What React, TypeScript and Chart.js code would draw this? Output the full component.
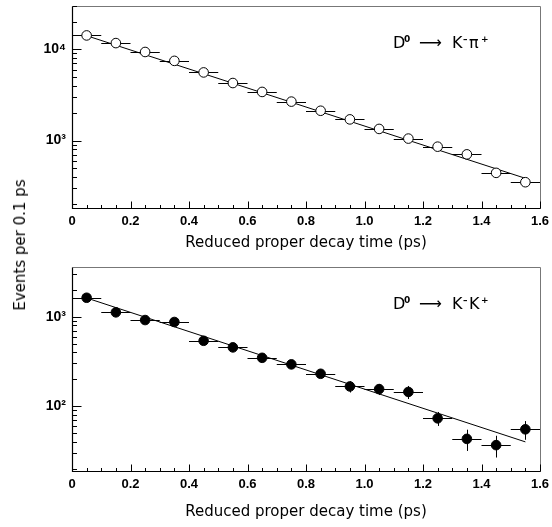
import React, { useEffect, useRef } from "react";
import { Chart, registerables } from "chart.js";

Chart.register(...registerables);

// ---- data ----
const binCenters = [0.05, 0.15, 0.25, 0.35, 0.45, 0.55, 0.65, 0.75, 0.85, 0.95, 1.05, 1.15, 1.25, 1.35, 1.45, 1.55];
const binHalfWidth = 0.05;

const kpiCounts = [14200, 11700, 9350, 7470, 5580, 4270, 3410, 2670, 2120, 1705, 1340, 1050, 856, 705, 442, 349];
const kpiErrors = [120, 108, 97, 86, 75, 65, 58, 52, 46, 41, 37, 32, 29, 27, 21, 19];
const kpiFitX = [0.05, 1.55];
const kpiFitY = [14100, 385];

const kkCounts = [1630, 1120, 918, 873, 538, 454, 347, 293, 230, 166, 155, 144, 73, 43, 36.6, 55];
const kkErrors = [45, 38, 34, 33, 26, 24, 21, 19, 17, 24, 22, 24, 13, 11.5, 10, 13];
const kkFitX = [0.05, 1.55];
const kkFitY = [1620, 39.8];

const xTickValues = [0, 0.2, 0.4, 0.6, 0.8, 1, 1.2, 1.4, 1.6];
const kpiYTicks = [1000, 10000];
const kpiYLabels = ["10\u00B3", "10\u2074"];
const kkYTicks = [100, 1000];
const kkYLabels = ["10\u00B2", "10\u00B3"];

const xTitle = "Reduced proper decay time (ps)";
const yTitle = "Events per 0.1 ps";

// decay labels: [text, isSuperscript]
const kpiDecay: [string, boolean][] = [["D", false], ["0", true], ["\u27F6", false], ["K", false], ["\u2013", true], ["\u03C0", false], ["+", true]];
const kkDecay: [string, boolean][] = [["D", false], ["0", true], ["\u27F6", false], ["K", false], ["\u2013", true], ["K", false], ["+", true]];
const decayOffsets = [0, 11, 26, 59, 70, 76, 88];

type Panel = {
  counts: number[];
  errors: number[];
  fitX: number[];
  fitY: number[];
  yMin: number;
  yMax: number;
  yTicks: number[];
  yLabels: string[];
  filled: boolean;
  decay: [string, boolean][];
  padTop: number;
  xHeight: number;
  titlePadBottom: number;
};

const FONT = "'DejaVu Sans', sans-serif";
const TICKFONT = "'Liberation Sans', sans-serif";

function makeChart(canvas: HTMLCanvasElement, p: Panel) {
  const decorPlugin = {
    id: "decor",
    beforeDatasetsDraw(chart: any) {
      const ctx = chart.ctx;
      const xs = chart.scales.x;
      const ys = chart.scales.y;
      ctx.save();
      ctx.strokeStyle = "#000";
      ctx.lineWidth = 1;
      binCenters.forEach((xc, i) => {
        const px = xs.getPixelForValue(xc);
        const py = ys.getPixelForValue(p.counts[i]);
        const x0 = xs.getPixelForValue(xc - binHalfWidth);
        const x1 = xs.getPixelForValue(xc + binHalfWidth);
        const y0 = ys.getPixelForValue(p.counts[i] - p.errors[i]);
        const y1 = ys.getPixelForValue(p.counts[i] + p.errors[i]);
        ctx.beginPath();
        ctx.moveTo(x0, Math.round(py) + 0.5);
        ctx.lineTo(x1, Math.round(py) + 0.5);
        ctx.moveTo(Math.round(px) + 0.5, y0);
        ctx.lineTo(Math.round(px) + 0.5, y1);
        ctx.stroke();
      });
      ctx.restore();
    },
    afterDraw(chart: any) {
      const ctx = chart.ctx;
      const { left, right, top, bottom } = chart.chartArea;
      const xs = chart.scales.x;
      const ys = chart.scales.y;
      const L = Math.round(left) + 0.5;
      const R = Math.round(right) + 0.5;
      const T = Math.round(top) + 0.5;
      const B = Math.round(bottom) + 0.5;
      ctx.save();
      ctx.strokeStyle = "#777";
      ctx.lineWidth = 1;
      ctx.beginPath();
      ctx.moveTo(L, T);
      ctx.lineTo(R, T);
      ctx.lineTo(R, B);
      ctx.stroke();
      ctx.strokeStyle = "#000";
      ctx.lineWidth = 1.2;
      ctx.beginPath();
      ctx.moveTo(L, T);
      ctx.lineTo(L, B);
      ctx.lineTo(R, B);
      ctx.stroke();
      ctx.lineWidth = 1;
      ctx.beginPath();
      for (let k = 0; k <= 32; k++) {
        const v = k * 0.05;
        const px = Math.round(xs.getPixelForValue(v)) + 0.5;
        const len = k % 4 === 0 ? 7 : 3.5;
        ctx.moveTo(px, B);
        ctx.lineTo(px, B - len);
      }
      const lo = Math.floor(Math.log10(p.yMin));
      const hi = Math.ceil(Math.log10(p.yMax));
      for (let d = lo; d <= hi; d++) {
        for (let m = 1; m <= 9; m++) {
          const v = m * Math.pow(10, d);
          if (v < p.yMin || v > p.yMax) continue;
          const py = Math.round(ys.getPixelForValue(v)) + 0.5;
          const len = m === 1 ? 9 : 4.5;
          ctx.moveTo(L, py);
          ctx.lineTo(L + len, py);
        }
      }
      ctx.stroke();

      const x0 = left + 0.686 * (right - left);
      const yb = top + 0.208 * (bottom - top);
      ctx.fillStyle = "#000";
      ctx.textBaseline = "alphabetic";
      ctx.textAlign = "left";
      p.decay.forEach(([t, sup], i) => {
        ctx.font = sup ? `bold 9px ${FONT}` : `16px ${FONT}`;
        ctx.fillText(t, x0 + decayOffsets[i], sup ? yb - 6 : yb);
      });
      ctx.restore();
    },
  };

  return new Chart(canvas, {
    type: "scatter",
    data: {
      datasets: [
        {
          type: "line",
          data: p.fitX.map((x, i) => ({ x, y: p.fitY[i] })),
          borderColor: "#000",
          borderWidth: 1,
          pointRadius: 0,
          fill: false,
          order: 2,
        } as any,
        {
          data: binCenters.map((x, i) => ({ x, y: p.counts[i] })),
          pointRadius: 4.8,
          pointBorderWidth: 1,
          borderColor: "#000",
          backgroundColor: p.filled ? "#000" : "#fff",
          order: 1,
        },
      ],
    },
    options: {
      animation: false,
      responsive: false,
      devicePixelRatio: 1,
      events: [],
      layout: { padding: { top: p.padTop, right: 12, left: 0, bottom: 0 } },
      plugins: { legend: { display: false }, tooltip: { enabled: false } },
      scales: {
        x: {
          type: "linear",
          min: 0,
          max: 1.6,
          afterBuildTicks: (s: any) => {
            s.ticks = xTickValues.map((v) => ({ value: v }));
          },
          ticks: {
            color: "#000",
            font: { family: TICKFONT, size: 13, weight: "bold" },
            padding: 6,
            maxRotation: 0,
            autoSkip: false,
          },
          grid: { display: false, drawTicks: false },
          border: { display: false },
          title: {
            display: true,
            text: xTitle,
            color: "#000",
            font: { family: FONT, size: 15 },
            padding: { top: 0, bottom: p.titlePadBottom },
          },
          afterFit: (s: any) => {
            s.height = p.xHeight;
            s.paddingLeft = 0;
            s.paddingRight = 0;
          },
        },
        y: {
          type: "logarithmic",
          min: p.yMin,
          max: p.yMax,
          afterBuildTicks: (s: any) => {
            s.ticks = p.yTicks.map((v) => ({ value: v }));
          },
          ticks: {
            color: "#000",
            font: { family: TICKFONT, size: 14, weight: "bold" },
            padding: 6,
            callback: (_v: any, i: number) => p.yLabels[i],
          },
          grid: { display: false, drawTicks: false },
          border: { display: false },
          afterFit: (s: any) => {
            s.width = 72;
            s.paddingTop = 0;
            s.paddingBottom = 0;
          },
        },
      },
    },
    plugins: [decorPlugin],
  } as any);
}

export default function App() {
  const topRef = useRef<HTMLCanvasElement>(null);
  const botRef = useRef<HTMLCanvasElement>(null);

  useEffect(() => {
    const c1 = makeChart(topRef.current!, {
      counts: kpiCounts,
      errors: kpiErrors,
      fitX: kpiFitX,
      fitY: kpiFitY,
      yMin: 182,
      yMax: 30000,
      yTicks: kpiYTicks,
      yLabels: kpiYLabels,
      filled: false,
      decay: kpiDecay,
      padTop: 4,
      xHeight: 52,
      titlePadBottom: 8,
    });
    const c2 = makeChart(botRef.current!, {
      counts: kkCounts,
      errors: kkErrors,
      fitX: kkFitX,
      fitY: kkFitY,
      yMin: 18.8,
      yMax: 3600,
      yTicks: kkYTicks,
      yLabels: kkYLabels,
      filled: true,
      decay: kkDecay,
      padTop: 7,
      xHeight: 56,
      titlePadBottom: 6,
    });
    return () => {
      c1.destroy();
      c2.destroy();
    };
  }, []);

  return (
    <div style={{ position: "absolute", left: 0, top: 0, width: 552, height: 527, background: "#fff" }}>
      <canvas ref={topRef} width={552} height={260} style={{ position: "absolute", left: 0, top: 0 }} />
      <canvas ref={botRef} width={552} height={267} style={{ position: "absolute", left: 0, top: 260 }} />
      <div
        style={{
          position: "absolute",
          left: 20,
          top: 245,
          transform: "translate(-50%, -50%) rotate(-90deg)",
          whiteSpace: "nowrap",
          fontFamily: FONT,
          fontSize: 15,
          color: "#000",
        }}
      >
        {yTitle}
      </div>
    </div>
  );
}
